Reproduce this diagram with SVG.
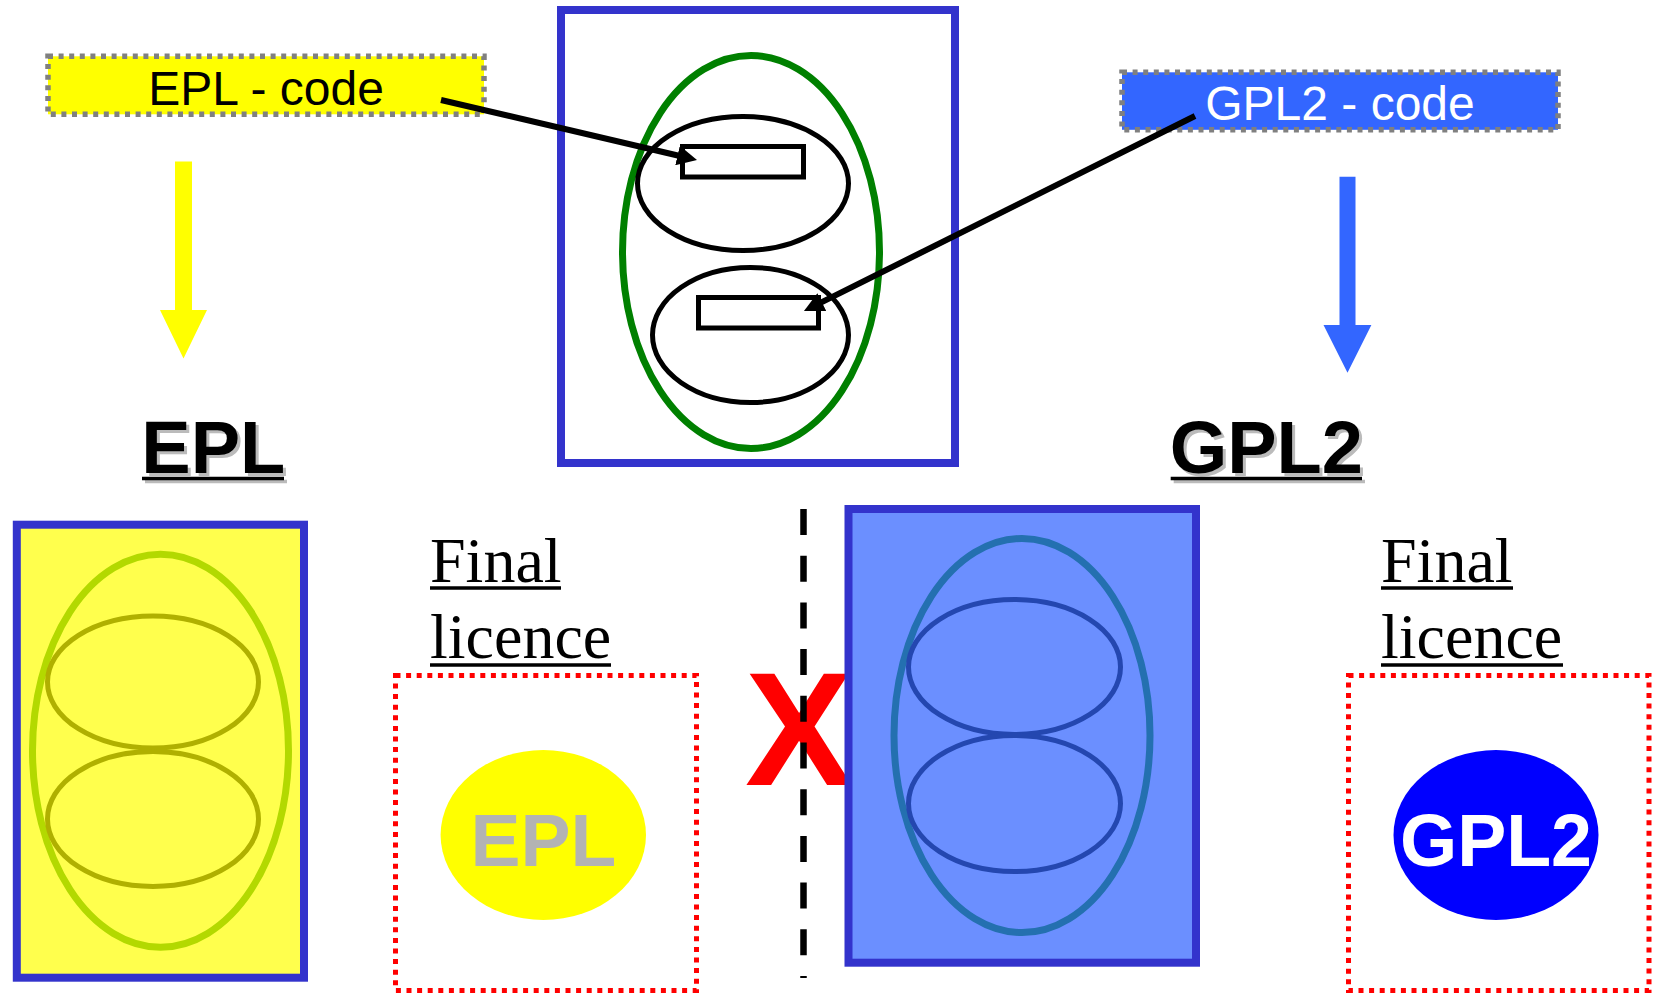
<svg xmlns="http://www.w3.org/2000/svg" width="1659" height="993" viewBox="0 0 1659 993">
<style>
.sans{font-family:"Liberation Sans",Arial,sans-serif}
.serif{font-family:"Liberation Serif","Times New Roman",serif}
.codebox{stroke:#808080;stroke-width:5.5;stroke-dasharray:5 5.6}
.frame{fill:none;stroke:#3333CC;stroke-width:8}
.final{fill:none;stroke:#FF0000;stroke-width:5;stroke-dasharray:5 5.6}
.conn{stroke:#000;stroke-width:6;fill:none}
.title{font-weight:bold;font-size:74px}
.ftext{font-size:64px;fill:#000}
.ul{stroke:#000;stroke-width:3.5}
</style>
<defs>
<marker id="ah" markerUnits="userSpaceOnUse" markerWidth="20" markerHeight="20" viewBox="0 0 20 20" refX="9" refY="10" orient="auto">
<path d="M0,0 L20,10 L0,20 z" fill="#000"/>
</marker>
</defs>
<rect width="1659" height="993" fill="#fff"/>

<g id="epl-code">
<rect class="codebox" x="48" y="56.3" width="436" height="58" fill="#FFFF00"/>
<text class="sans" x="266" y="105" font-size="48" text-anchor="middle" fill="#000">EPL - code</text>
</g>

<g id="gpl2-code">
<rect class="codebox" x="1122" y="72.3" width="436" height="57.5" fill="#3366FF"/>
<text class="sans" x="1340" y="120" font-size="48" text-anchor="middle" fill="#fff">GPL2 - code</text>
</g>

<g id="combined-work">
<rect class="frame" x="561" y="10" width="394" height="453"/>
<ellipse cx="751" cy="252" rx="128.5" ry="196.5" fill="none" stroke="#008000" stroke-width="7"/>
<ellipse cx="743" cy="183.5" rx="105.5" ry="67" fill="none" stroke="#000" stroke-width="5"/>
<ellipse cx="750.5" cy="335" rx="98" ry="67.5" fill="none" stroke="#000" stroke-width="5"/>
<rect x="682.5" y="146.5" width="121" height="30.5" fill="none" stroke="#000" stroke-width="5"/>
<rect x="698.5" y="297.5" width="120" height="30.5" fill="none" stroke="#000" stroke-width="5"/>
</g>

<g id="epl-arrow">
<polygon points="175,161.5 192,161.5 192,310 207,310 183.5,358.5 160,310 175,310" fill="#FFFF00"/>
</g>
<g id="gpl2-arrow">
<polygon points="1339.5,176.7 1355.5,176.7 1355.5,325 1371.4,325 1347.5,372.7 1323.5,325 1339.5,325" fill="#3366FF"/>
</g>

<g id="epl-title">
<text class="sans title" x="144.3" y="475.7" fill="#BBBBBB">EPL</text>
<line x1="145" y1="481.5" x2="287" y2="481.5" stroke="#BBBBBB" stroke-width="3.5"/>
<text class="sans title" x="141.3" y="472.7" fill="#000">EPL</text>
<line class="ul" x1="142" y1="478.5" x2="284" y2="478.5"/>
</g>

<g id="gpl2-title">
<text class="sans title" x="1172.7" y="475.7" fill="#BBBBBB">GPL2</text>
<line x1="1173.7" y1="481.5" x2="1365" y2="481.5" stroke="#BBBBBB" stroke-width="3.5"/>
<text class="sans title" x="1169.7" y="472.7" fill="#000">GPL2</text>
<line class="ul" x1="1170.7" y1="478.5" x2="1362" y2="478.5"/>
</g>

<g id="epl-result">
<rect x="16.8" y="524.7" width="287.2" height="453" fill="#FFFF4D" stroke="#3333CC" stroke-width="8"/>
<ellipse cx="160.5" cy="750.7" rx="128" ry="196.5" fill="none" stroke="#B3D900" stroke-width="7"/>
<ellipse cx="153" cy="682" rx="105.5" ry="66" fill="none" stroke="#B0B000" stroke-width="5"/>
<ellipse cx="153" cy="819" rx="105.5" ry="67.5" fill="none" stroke="#B0B000" stroke-width="5"/>
</g>

<g id="epl-final-label">
<text class="serif ftext" x="430" y="581.7">Final</text>
<line class="ul" x1="430" y1="588" x2="561" y2="588"/>
<text class="serif ftext" x="430" y="658">licence</text>
<line class="ul" x1="430" y1="665" x2="611" y2="665"/>
</g>

<g id="epl-final">
<rect class="final" x="395.5" y="675.5" width="301" height="315"/>
<ellipse cx="543.3" cy="835" rx="102.7" ry="85" fill="#FFFF00"/>
<text class="sans" x="470.5" y="866" font-size="75" font-weight="bold" fill="#B3B3B3">EPL</text>
</g>

<g id="cross">
<text class="sans" x="745" y="784.5" font-size="162" font-weight="bold" fill="#FF0000">X</text>
</g>

<g id="gpl2-result">
<rect x="848.5" y="509" width="347.5" height="453.7" fill="#6B8FFF" stroke="#3333CC" stroke-width="8"/>
<ellipse cx="1022" cy="735.5" rx="128" ry="197" fill="none" stroke="#2470B0" stroke-width="7"/>
<ellipse cx="1014.5" cy="667" rx="106" ry="67.5" fill="none" stroke="#2447B0" stroke-width="5"/>
<ellipse cx="1014.5" cy="803.5" rx="106" ry="68" fill="none" stroke="#2447B0" stroke-width="5"/>
</g>

<g id="gpl2-final-label">
<text class="serif ftext" x="1381" y="581.7">Final</text>
<line class="ul" x1="1381" y1="588" x2="1513" y2="588"/>
<text class="serif ftext" x="1381" y="658">licence</text>
<line class="ul" x1="1381" y1="665" x2="1563" y2="665"/>
</g>

<g id="gpl2-final">
<rect class="final" x="1348.5" y="675.5" width="300.5" height="315"/>
<ellipse cx="1496" cy="835" rx="102.5" ry="85" fill="#0000FF"/>
<text class="sans" x="1400" y="866" font-size="75" font-weight="bold" fill="#FFFFFF" textLength="192" lengthAdjust="spacingAndGlyphs">GPL2</text>
</g>

<g id="divider">
<line x1="803.5" y1="509" x2="803.5" y2="978" stroke="#000" stroke-width="6.5" stroke-dasharray="26 20.7"/>
</g>

<g id="connectors">
<line class="conn" x1="441" y1="100" x2="686.3" y2="157.5" marker-end="url(#ah)"/>
<line class="conn" x1="1195" y1="116" x2="813.8" y2="306.1" marker-end="url(#ah)"/>
</g>
</svg>
